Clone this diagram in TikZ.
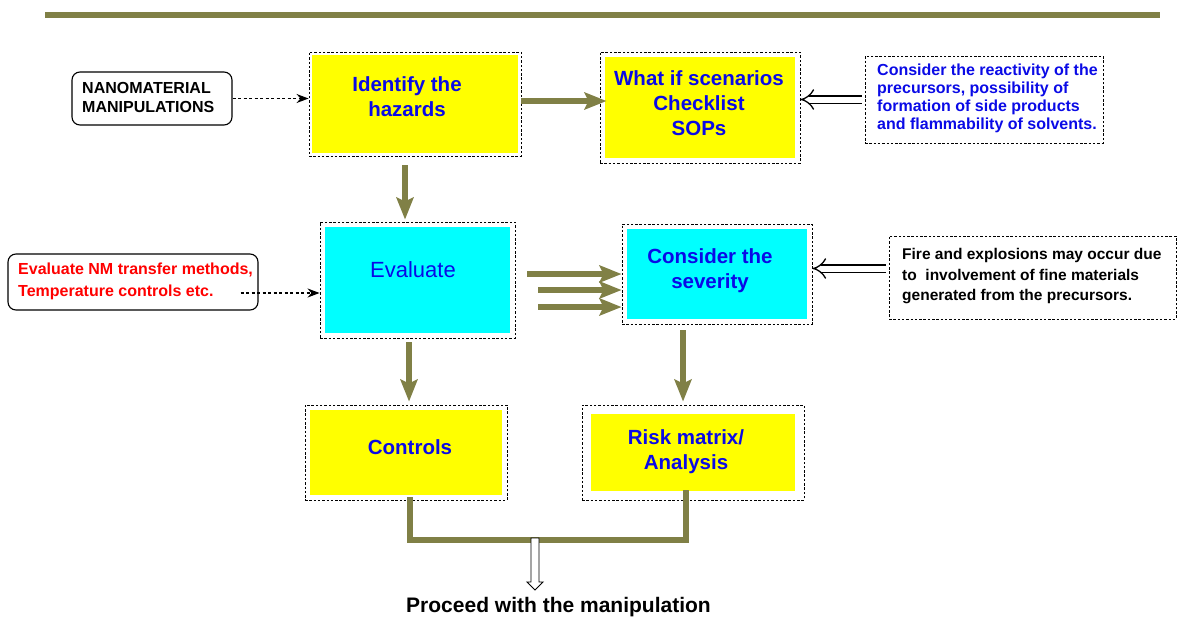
\documentclass[tikz,border=0pt]{standalone}
\usepackage{fontspec}
\setmainfont{Liberation Sans}
\usetikzlibrary{arrows.meta,calc}
\definecolor{barolive}{RGB}{128,128,70}
\definecolor{txtblue}{RGB}{10,10,230}
\definecolor{boxyellow}{RGB}{255,255,0}
\definecolor{boxcyan}{RGB}{0,255,255}
\newcommand{\headfont}{\bfseries\fontsize{20.5}{25}\selectfont}
\newcommand{\notefont}{\bfseries\fontsize{16}{18}\selectfont}
\tikzset{
  stagebox/.style 2 args={draw, line width=0.9pt, dash pattern=on 2.5pt off 1.8pt, inner sep=0pt,
    path picture={\fill[#1] ([xshift=#2,yshift=-#2]path picture bounding box.north west)
      rectangle ([xshift=-#2,yshift=#2]path picture bounding box.south east);}},
  heading/.style={font=\headfont, text=txtblue, align=center, inner sep=0pt},
  notetext/.style={font=\notefont, align=left, anchor=west, inner sep=0pt},
  roundnote/.style={draw, line width=1.1pt, rounded corners=8pt, inner sep=0pt},
  dashnote/.style={draw, line width=0.9pt, dash pattern=on 2.5pt off 1.8pt, inner sep=0pt},
  olivearrow/.style={draw=barolive, line width=6pt, -{Stealth[length=22pt,width=17pt,inset=4pt]}},
  oliveline/.style={draw=barolive, line width=6pt},
  dotarrow/.style={line width=1.1pt, dash pattern=on 3pt off 2.5pt, -{Stealth[length=12pt,width=9pt]}},
  hollowarrow/.style={double, double distance=6pt, line width=1.3pt, -{Implies[length=9pt,width=18pt]}},
}

\begin{document}
\begin{tikzpicture}[x=1pt, y=-1pt]
    \useasboundingbox (0,0) rectangle (1182,632);
    % top bar
    \draw[barolive, line width=6pt] (45,15) -- (1160,15);

    % stages
    \node[stagebox={boxyellow}{3pt}, minimum width=212pt, minimum height=104pt] (hazards) at (415,104) {};
    \node[stagebox={boxyellow}{5pt}, minimum width=200pt, minimum height=111pt] (whatif) at (700,107.5) {};
    \node[stagebox={boxcyan}{5pt}, minimum width=195pt, minimum height=116pt] (evaluate) at (417.5,280) {};
    \node[stagebox={boxcyan}{5pt}, minimum width=190pt, minimum height=100pt] (severity) at (717,274) {};
    \node[stagebox={boxyellow}{5pt}, minimum width=202pt, minimum height=95pt] (controls) at (406,452.5) {};
    \node[stagebox={boxyellow}{9pt}, minimum width=222pt, minimum height=95pt] (risk) at (693,452.5) {};

    \node[heading] (hazardstxt) at (407,97) {Identify the\\hazards};
    \node[heading] (whatiftxt) at (699,103) {What if scenarios\\Checklist\\SOPs};
    \node[heading, font=\fontsize{22}{25}\selectfont] (evaluatetxt) at (413,270) {Evaluate};
    \node[heading] (severitytxt) at (710,271) {Consider the\\severity};
    \node[heading] (controlstxt) at (410,447) {Controls};
    \node[heading] (risktxt) at (686,452) {Risk matrix/\\Analysis};

    % side notes
    \node[roundnote, minimum width=160pt, minimum height=53pt] (nano) at (152,98.5) {};
    \node[notetext, font=\bfseries\fontsize{16}{19}\selectfont] (nanotxt) at (82,97.5) {NANOMATERIAL\\MANIPULATIONS};
    \node[roundnote, minimum width=250pt, minimum height=56pt] (evalnm) at (133,282) {};
    \node[notetext, font=\bfseries\fontsize{16}{22}\selectfont, text=red] (evalnmtxt) at (18,281)
        {Evaluate NM transfer methods,\\Temperature controls etc.};
    \node[dashnote, minimum width=238pt, minimum height=87pt] (reactivity) at (984,99.5) {};
    \node[notetext, text=txtblue] (reactivitytxt) at (877,98)
        {Consider the reactivity of the\\precursors, possibility of\\formation of side products\\and flammability of solvents.};
    \node[dashnote, minimum width=287pt, minimum height=83pt] (fire) at (1032.5,277.5) {};
    \node[notetext, font=\bfseries\fontsize{15.5}{20.5}\selectfont] (firetxt) at (902,276.5)
        {Fire and explosions may occur due\\to \ involvement of fine materials\\generated from the precursors.};

    \node[font=\bfseries\fontsize{21}{25}\selectfont, inner sep=0pt] (proceed) at (558.5,607) {Proceed with the manipulation};

    % connectors
    \draw[dotarrow] (nano.east) -- (nano.east -| hazards.west);
    \coordinate (nmtail) at ($(evalnm.east)+(-18,11)$);
    \draw[dotarrow] (nmtail) -- (nmtail -| evaluate.west);

    \coordinate (hzout) at ($(hazards.east)+(0,-3)$);
    \draw[olivearrow] (hzout) -- ($(hzout -| whatif.west)+(7,0)$);
    \coordinate (hzfoot) at ($(hazards.south)+(-10,9)$);
    \draw[olivearrow] (hzfoot) -- ($(hzfoot |- evaluate.north)+(0,-2)$);

    \draw[olivearrow] ($(evaluate.east)+(12,-6)$) -- (severity.west);
    \draw[olivearrow] ($(evaluate.east)+(23,10)$) -- ($(severity.west)+(0,16)$);
    \draw[olivearrow] ($(evaluate.east)+(23,27)$) -- ($(severity.west)+(0,33)$);

    \coordinate (evfoot) at ($(evaluate.south)+(-8.5,4)$);
    \draw[olivearrow] (evfoot) -- ($(evfoot |- controls.north)+(0,-3)$);
    \coordinate (svfoot) at ($(severity.south)+(-34,6)$);
    \draw[olivearrow] (svfoot) -- ($(svfoot |- risk.north)+(0,-3)$);

    \draw[hollowarrow] ([xshift=-3pt]reactivity.west) -- (reactivity.west -| whatif.east);
    \coordinate (firetail) at ($(fire.west)+(-3,-9)$);
    \draw[hollowarrow] (firetail) -- (firetail -| severity.east);

    \coordinate (merge) at (535,540);
    \draw[oliveline] ($(controls.south)+(4,-3)$) |- (merge) -| ($(risk.south)+(-7,-10)$);
    \draw[fill=white, line width=0.9pt] ($(merge)+(-4,-2)$) -- ++(0,44) -- ++(-4,0) -- ++(8,8)
        -- ++(8,-8) -- ++(-4,0) -- ++(0,-44) -- cycle;
\end{tikzpicture}
\end{document}
